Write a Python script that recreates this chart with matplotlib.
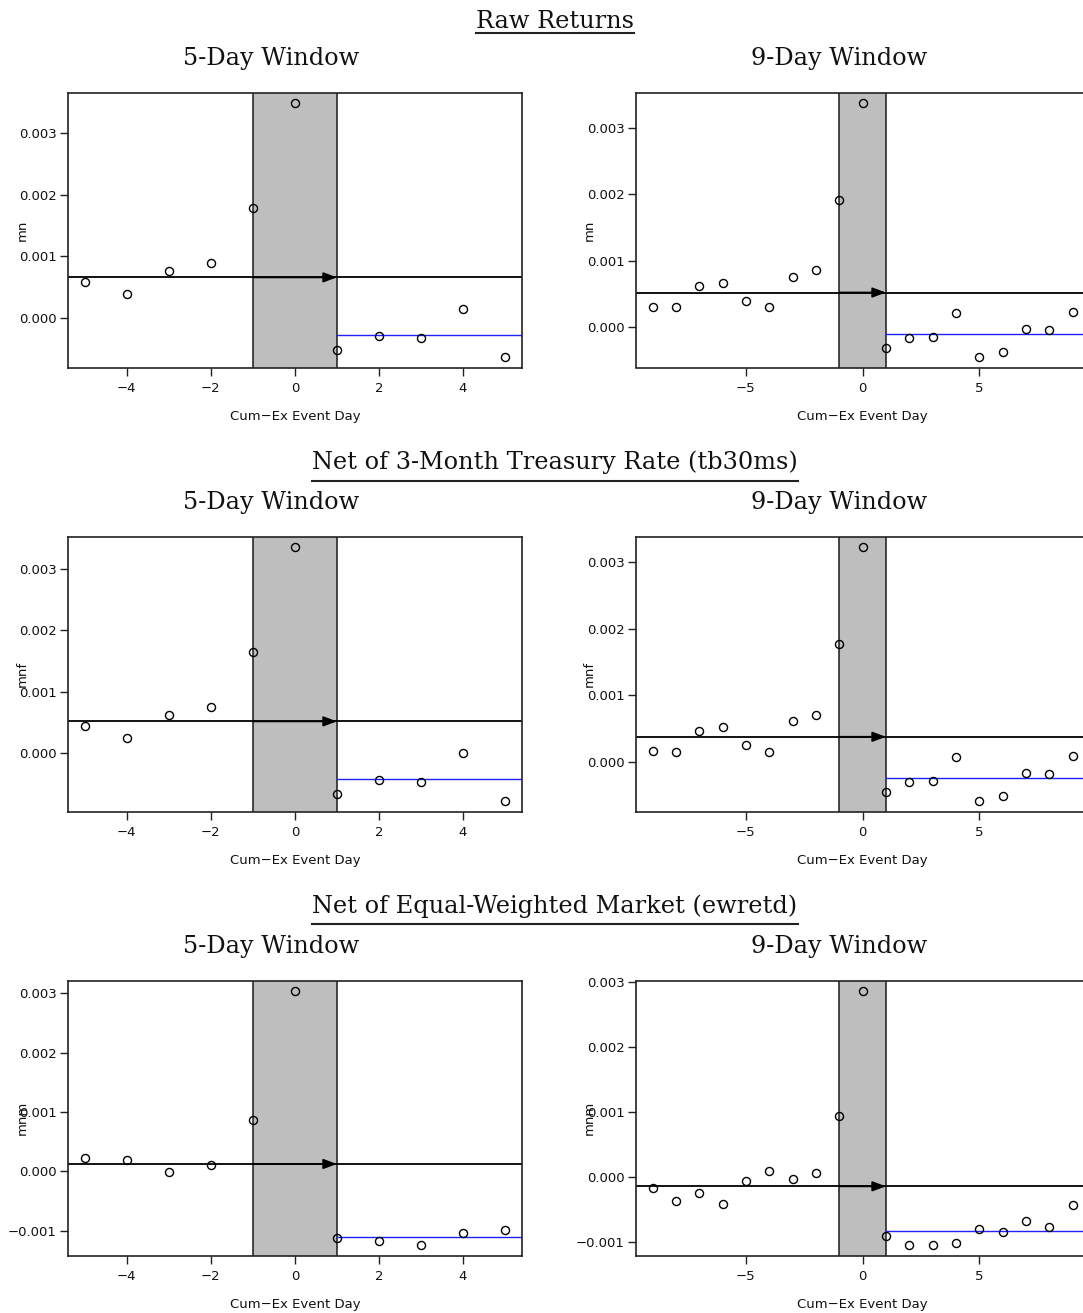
import matplotlib
matplotlib.use("Agg")
import matplotlib.pyplot as plt
from matplotlib.lines import Line2D

# ---- data: mean daily returns around the cum-ex event day ----
days_5 = list(range(-5, 6))
days_9 = list(range(-9, 10))

raw_5 = [0.000589, 0.000384, 0.000768, 0.000897, 0.001789, 0.003486,
         -0.000524, -0.000297, -0.000330, 0.000141, -0.000638]
raw_9 = [0.000302, 0.000296, 0.000613, 0.000658, 0.000392, 0.000296,
         0.000754, 0.000854, 0.001910, 0.003377, -0.000317, -0.000171,
         -0.000146, 0.000206, -0.000457, -0.000372, -0.000030, -0.000045,
         0.000231]
tb_5 = [0.000449, 0.000244, 0.000628, 0.000758, 0.001651, 0.003351,
        -0.000666, -0.000439, -0.000471, 0.000000, -0.000780]
tb_9 = [0.000155, 0.000150, 0.000466, 0.000516, 0.000245, 0.000150,
        0.000606, 0.000706, 0.001763, 0.003225, -0.000456, -0.000310,
        -0.000285, 0.000065, -0.000596, -0.000511, -0.000170, -0.000185,
        0.000090]
ew_5 = [0.000219, 0.000185, -0.000017, 0.000112, 0.000859, 0.003036,
        -0.001122, -0.001178, -0.001246, -0.001038, -0.000993]
ew_9 = [-0.000164, -0.000369, -0.000246, -0.000421, -0.000067, 0.000087,
        -0.000026, 0.000067, 0.000938, 0.002862, -0.000903, -0.001051,
        -0.001051, -0.001015, -0.000800, -0.000841, -0.000682, -0.000769,
        -0.000431]

section_titles = ["Raw Returns",
                  "Net of 3-Month Treasury Rate (tb30ms)",
                  "Net of Equal-Weighted Market (ewretd)"]
window_titles = ["5-Day Window", "9-Day Window"]
y_names = ["mn", "mnf", "mnm"]
x_label = "Cum\u2212Ex Event Day"
x_ticks_5 = [-4, -2, 0, 2, 4]
x_ticks_9 = [-5, 0, 5]
y_ticks = [-0.001, 0.0, 0.001, 0.002, 0.003]

rows = [(raw_5, raw_9), (tb_5, tb_9), (ew_5, ew_9)]

# ---- page layout (pixels) ----
W_PX, H_PX, DPI = 1083, 1313, 100
BOX_LEFT = [68.0, 635.7]
BOX_W = 453.7
BOX_TOP = [93.0, 537.0, 981.0]
BOX_H = 274.5
SUB_X = [271.0, 838.7]
TITLE_X = 555.0
TITLE_BASE = [28.3, 469.3, 913.3]
UNDERLINE_Y = [33.3, 480.7, 924.3]

SERIF = "DejaVu Serif"
TITLE_SIZE = 17.3
LABEL_SIZE = 9.5
EDGE = "#222222"


def r_range(vals):
    lo, hi = min(vals), max(vals)
    pad = 0.04 * (hi - lo)
    return lo - pad, hi + pad


def fmt_tick(v):
    return f"{v:.3f}".replace("-", "\u2212")


def draw_panel(ax, days, vals, xticks, yname):
    x0, x1 = r_range(days)
    y0, y1 = r_range(vals)
    ax.set_xlim(x0, x1)
    ax.set_ylim(y0, y1)

    # event window shading and its borders
    ax.axvspan(-1, 1, color="#bebebe", lw=0, zorder=0)
    ax.axvline(-1, color="#1a1a1a", lw=1.1, zorder=1)
    ax.axvline(1, color="#1a1a1a", lw=1.1, zorder=1)

    pre = [v for d, v in zip(days, vals) if d <= -2]
    post = [v for d, v in zip(days, vals) if d >= 2]
    pre_mean = sum(pre) / len(pre)
    post_mean = sum(post) / len(post)

    ax.axhline(pre_mean, color="black", lw=1.3, zorder=2)
    ax.annotate("", xy=(1, pre_mean), xytext=(-1, pre_mean),
                arrowprops=dict(arrowstyle="-|>,head_length=0.8,head_width=0.3",
                                color="black", lw=1.3,
                                shrinkA=0, shrinkB=0),
                zorder=3)
    ax.plot([1, x1], [post_mean, post_mean], color="#2020ff", lw=1.0, zorder=2)

    ax.plot(days, vals, "o", mfc="none", mec="black", ms=5.8, mew=1.0,
            zorder=5, clip_on=False)

    ax.set_xticks(xticks)
    ax.set_xticklabels([str(t).replace("-", "\u2212") for t in xticks])
    yt = [t for t in y_ticks if y0 <= t <= y1]
    ax.set_yticks(yt)
    ax.set_yticklabels([fmt_tick(t) for t in yt])

    for s in ax.spines.values():
        s.set_linewidth(1.2)
        s.set_color(EDGE)
    ax.tick_params(axis="both", length=5.5, width=1.0, color=EDGE,
                   labelsize=LABEL_SIZE, labelcolor="#111111")
    ax.tick_params(axis="x", pad=5.3)
    ax.tick_params(axis="y", pad=2.6)

    ax.annotate(x_label, xy=(0.5, 0), xycoords="axes fraction",
                xytext=(0, -35.3), textcoords="offset points",
                ha="center", va="center", fontsize=LABEL_SIZE, color="#111111")
    ax.annotate(yname, xy=(0, 0.5), xycoords="axes fraction",
                xytext=(-33.1, 0), textcoords="offset points",
                ha="center", va="center", rotation=90, fontsize=LABEL_SIZE,
                color="#111111")


fig = plt.figure(figsize=(W_PX / DPI, H_PX / DPI), dpi=DPI, facecolor="white")

titles = []
for r, (series_5, series_9) in enumerate(rows):
    top = BOX_TOP[r]
    for c, (days, vals, xt) in enumerate([(days_5, series_5, x_ticks_5),
                                          (days_9, series_9, x_ticks_9)]):
        ax = fig.add_axes([BOX_LEFT[c] / W_PX, 1 - (top + BOX_H) / H_PX,
                           BOX_W / W_PX, BOX_H / H_PX])
        draw_panel(ax, days, vals, xt, y_names[r])
        fig.text(SUB_X[c] / W_PX, 1 - (top - 28.5) / H_PX, window_titles[c],
                 ha="center", va="baseline", family=SERIF,
                 fontsize=TITLE_SIZE, color="#111111")
    t = fig.text(TITLE_X / W_PX, 1 - TITLE_BASE[r] / H_PX, section_titles[r],
                 ha="center", va="baseline", family=SERIF,
                 fontsize=TITLE_SIZE, color="#111111")
    titles.append(t)

# underline each section heading across its rendered width
fig.canvas.draw()
renderer = fig.canvas.get_renderer()
for r, t in enumerate(titles):
    bb = t.get_window_extent(renderer)
    yy = 1 - UNDERLINE_Y[r] / H_PX
    fig.add_artist(Line2D([bb.x0 / W_PX, bb.x1 / W_PX], [yy, yy],
                          transform=fig.transFigure, color="#222222", lw=1.5))

fig.savefig("out.png", dpi=DPI, facecolor="white")
